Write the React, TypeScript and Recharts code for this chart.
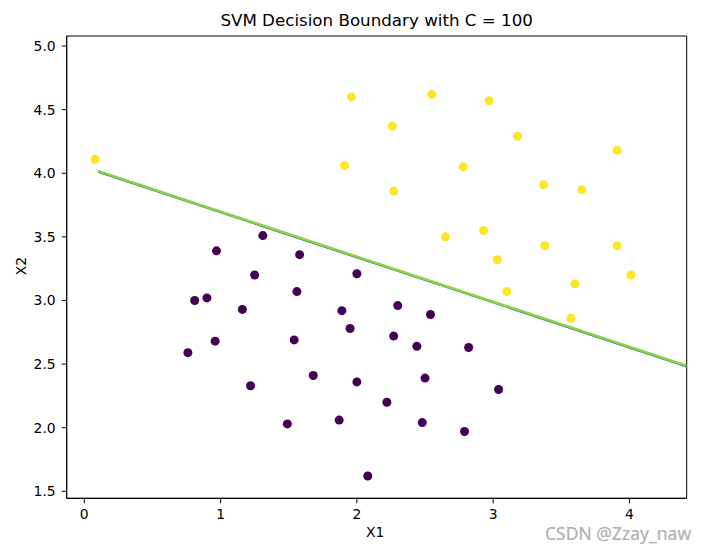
import React from "react";
import {
  ScatterChart,
  Scatter,
  XAxis,
  YAxis,
  ReferenceArea,
} from "recharts";

// class 1 (yellow) points
const classOneX = [0.08, 1.96, 1.91, 2.55, 2.97, 2.26, 3.18, 3.91, 2.78, 2.27, 3.37, 3.65, 2.65, 2.93, 3.38, 3.91, 3.03, 4.01, 3.1, 3.6, 3.57];
const classOneY = [4.11, 4.6, 4.06, 4.62, 4.57, 4.37, 4.29, 4.18, 4.05, 3.86, 3.91, 3.87, 3.5, 3.55, 3.43, 3.43, 3.32, 3.2, 3.07, 3.13, 2.86];

// class 0 (purple) points
const classZeroX = [0.97, 1.31, 1.58, 1.25, 2.0, 0.81, 0.9, 1.16, 1.56, 1.89, 1.95, 0.96, 0.76, 1.54, 1.68, 1.22, 2.0, 1.49, 1.87, 2.3, 2.54, 2.27, 2.44, 2.82, 2.5, 3.04, 2.22, 2.48, 2.79, 2.08];
const classZeroY = [3.39, 3.51, 3.36, 3.2, 3.21, 3.0, 3.02, 2.93, 3.07, 2.92, 2.78, 2.68, 2.59, 2.69, 2.41, 2.33, 2.36, 2.03, 2.06, 2.96, 2.89, 2.72, 2.64, 2.63, 2.39, 2.3, 2.2, 2.04, 1.97, 1.62];

// decision boundary end points
const boundaryX = [0.1, 4.42];
const boundaryY = [4.018, 2.487];

const xTicks = [0, 1, 2, 3, 4];
const yTicks = [1.5, 2.0, 2.5, 3.0, 3.5, 4.0, 4.5, 5.0];

const X_DOMAIN: [number, number] = [-0.129, 4.42];
const Y_DOMAIN: [number, number] = [1.445, 5.079];

const yellowPts = classOneX.map((x, i) => ({ x, y: classOneY[i] }));
const purplePts = classZeroX.map((x, i) => ({ x, y: classZeroY[i] }));
const boundary = boundaryX.map((x, i) => ({ x, y: boundaryY[i] }));
const boundaryShadow = boundaryX.map((x, i) => ({ x, y: boundaryY[i] - 0.008 }));

const FONT = "'DejaVu Sans', sans-serif";
const tickStyle = { fill: "#000", fontSize: 13.9, fontFamily: FONT };

const Dot = (props: any) => {
  const { cx, cy, fill } = props;
  return <circle cx={cx} cy={cy} r={4.5} fill={fill} />;
};

export default function App() {
  return (
    <div style={{ position: "absolute", left: 0, top: 0, width: 715, height: 552, background: "#fff", fontFamily: FONT }}>
      <div
        style={{
          position: "absolute",
          left: 66.7,
          width: 620,
          top: 10,
          textAlign: "center",
          fontSize: 16.7,
          color: "#000",
        }}
      >
        SVM Decision Boundary with C = 100
      </div>
      <div style={{ position: "absolute", left: 366, top: 524, fontSize: 13.9, color: "#000" }}>X1</div>
      <div
        style={{
          position: "absolute",
          left: 12,
          top: 258,
          fontSize: 13.9,
          color: "#000",
          transform: "rotate(-90deg)",
          transformOrigin: "center",
        }}
      >
        X2
      </div>
      <div
        style={{
          position: "absolute",
          left: 545,
          top: 524,
          fontSize: 17.5,
          lineHeight: "18px",
          color: "#b0b0b0",
          fontFamily: "'Noto Sans', sans-serif",
          textShadow: "0 0 1px #e0e0e0",
        }}
      >
        CSDN @Zzay_naw
      </div>
      <ScatterChart
        width={715}
        height={552}
        margin={{ top: 36, right: 28.3, bottom: 13.7, left: 16.7 }}
        style={{ position: "absolute", left: 0, top: 0 }}
      >
        <XAxis
          type="number"
          dataKey="x"
          domain={X_DOMAIN}
          ticks={xTicks}
          allowDataOverflow
          height={40}
          tick={tickStyle}
          tickSize={5}
          tickMargin={6}
          stroke="#000"
          tickLine={{ stroke: "#000" }}
        />
        <YAxis
          type="number"
          dataKey="y"
          domain={Y_DOMAIN}
          ticks={yTicks}
          allowDataOverflow
          width={50}
          tick={tickStyle}
          tickSize={5}
          tickMargin={6}
          tickFormatter={(v) => Number(v).toFixed(1)}
          stroke="#000"
          tickLine={{ stroke: "#000" }}
        />
        <Scatter data={purplePts} fill="#440154" shape={Dot} isAnimationActive={false} />
        <Scatter data={yellowPts} fill="#fde725" shape={Dot} isAnimationActive={false} />
        <Scatter
          data={boundaryShadow}
          line={{ stroke: "#3b528b", strokeWidth: 1.5 }}
          shape={() => null}
          isAnimationActive={false}
        />
        <Scatter
          data={boundary}
          line={{ stroke: "#86d549", strokeWidth: 2.6 }}
          shape={() => null}
          isAnimationActive={false}
        />
        <ReferenceArea
          x1={X_DOMAIN[0]}
          x2={X_DOMAIN[1]}
          y1={Y_DOMAIN[0]}
          y2={Y_DOMAIN[1]}
          fill="none"
          stroke="#000"
          strokeWidth={1}
          ifOverflow="visible"
        />
      </ScatterChart>
    </div>
  );
}
